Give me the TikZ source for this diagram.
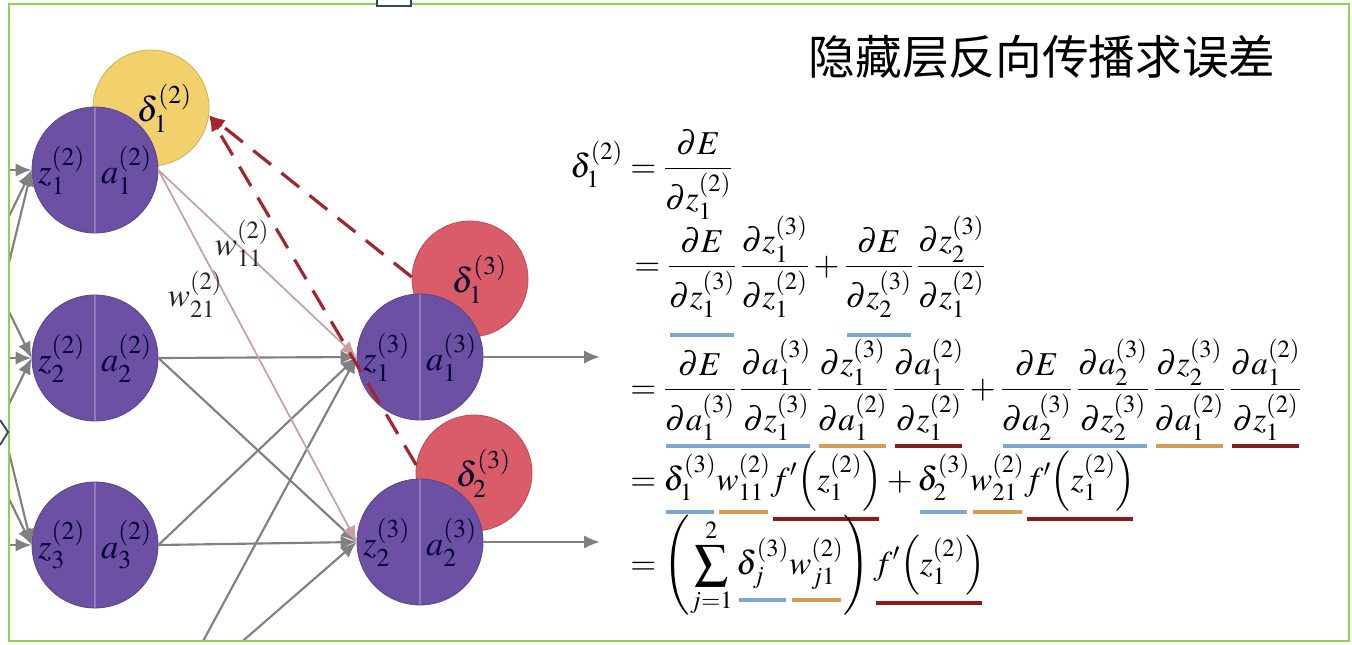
\documentclass[tikz,border=0pt]{standalone}
\usepackage{amsmath}
\usepackage{mathptmx}
\usepackage[no-math]{fontspec}
\newfontfamily\cjk{Noto Sans CJK SC}
\usetikzlibrary{arrows.meta}

\definecolor{framegreen}{HTML}{92D050}
\definecolor{nodepurple}{HTML}{6B50A3}
\definecolor{deltayellow}{HTML}{F2D16C}
\definecolor{deltared}{HTML}{D95C68}
\definecolor{backred}{HTML}{A3262F}
\definecolor{linkgray}{HTML}{808080}
\definecolor{linkpink}{HTML}{C99FA6}
\definecolor{ulblue}{HTML}{7EA6D3}
\definecolor{ulorange}{HTML}{D59C52}
\definecolor{uldark}{HTML}{8C1A1A}
\definecolor{navy}{HTML}{2E4A6B}

% coloured bar under a term
\newlength\uldrop
\newlength\ulgap \ulgap=4pt
\newcommand\ucol[2]{%
  \setbox0=\hbox{$\displaystyle#2$}%
  \dimen0=\dp0 \ifdim\dimen0<\uldrop \dimen0=\uldrop\fi
  \vtop{\copy0\nointerlineskip\kern-\dp0\kern\dimen0\kern\ulgap
    \hbox{\kern2pt\color{#1}\rule{\dimexpr\wd0-4pt\relax}{3pt}}}}

\begin{document}
\begin{tikzpicture}[
  x=0.75pt, y=-0.75pt,
  neuron/.style={circle, fill=nodepurple, draw=nodepurple!85!black, line width=0.6pt,
    minimum size=94.5pt, inner sep=0pt, text=black!80!blue,
    font=\fontsize{26}{30}\selectfont,
    path picture={\draw[nodepurple!75!white, line width=0.8pt]
      (path picture bounding box.north) -- (path picture bounding box.south);}},
  delta/.style={circle, minimum size=87pt, inner sep=0pt, line width=0.6pt,
    text=black!80!blue, font=\fontsize{26}{30}\selectfont},
  link/.style={draw=linkgray, line width=1.6pt, -{Latex[length=12pt,width=10pt]}},
  weight/.style={draw=linkpink, line width=1.3pt, -{Latex[length=12pt,width=10pt]}},
  back/.style={draw=backred, line width=2.4pt, dash pattern=on 17pt off 10pt,
    -{Latex[length=12pt,width=10pt]}},
  wlabel/.style={font=\fontsize{25}{29}\selectfont, text=black!85},
  eq/.style={anchor=base west, inner sep=0pt, font=\fontsize{25}{29}\selectfont}
]
\useasboundingbox (0,0) rectangle (1352,644);

\begin{scope}
\clip (9,4) rectangle (1349,641);
\coordinate (in1) at (-60,170);
\coordinate (in2) at (-60,358);
\coordinate (in3) at (-60,545);
\coordinate (hb) at (168,706);
\coordinate (out1) at (600,357);
\coordinate (out2) at (600,542);

\node[delta, fill=deltayellow, draw=deltayellow!85!black] (d12) at (151,108)
  {\hspace*{20pt}$\delta_1^{(2)}$};
\node[delta, fill=deltared, draw=deltared!85!black] (d31) at (470,279)
  {\hspace*{14pt}$\delta_1^{(3)}$};
\node[delta, fill=deltared, draw=deltared!85!black] (d32) at (474,473)
  {\hspace*{14pt}$\delta_2^{(3)}$};

\node[neuron] (h1) at (95,170) {$z_1^{(2)}$\hspace{12pt}$a_1^{(2)}$};
\node[neuron] (h2) at (95,358) {$z_2^{(2)}$\hspace{12pt}$a_2^{(2)}$};
\node[neuron] (h3) at (95,545) {$z_3^{(2)}$\hspace{12pt}$a_3^{(2)}$};
\node[neuron] (o1) at (420,357) {$z_1^{(3)}$\hspace{12pt}$a_1^{(3)}$};
\node[neuron] (o2) at (420,542) {$z_2^{(3)}$\hspace{12pt}$a_2^{(3)}$};

\foreach \i in {in1,in2,in3}
  \foreach \h in {h1,h2,h3}
    \draw[link] (\i) -- (\h.west);
\draw[link] (h2.east) -- (o1.west);
\draw[link] (h2.east) -- (o2.west);
\draw[link] (h3.east) -- (o1.west);
\draw[link] (h3.east) -- (o2.west);
\draw[link] (hb) -- (o1.west);
\draw[link] (hb) -- (o2.west);
\draw[weight] (h1.east) -- (o1.west);
\draw[weight] (h1.east) -- (o2.west);
\draw[link] (o1.east) -- (out1);
\draw[link] (o2.east) -- (out2);
\end{scope}

\node[wlabel] (w11) at (242,243) {$w_{11}^{(2)}$};
\node[wlabel] (w21) at (195,294) {$w_{21}^{(2)}$};

\draw[back] (d31.178) -- (d12.-7);
\draw[back] (d32.172) -- (d12.-7);

\node[font=\fontsize{35}{40}\selectfont\cjk] (title) at (1042,57) {隐藏层反向传播求误差};

\node[eq] (eq1) at (570,177)
  {$\displaystyle \delta_1^{(2)} = \frac{\partial E}{\partial z_1^{(2)}}$};
\node[eq] (eq2) at (634,275)
  {\ulgap=11pt$\displaystyle = \ucol{ulblue}{\frac{\partial E}{\partial z_1^{(3)}}}\,\frac{\partial z_1^{(3)}}{\partial z_1^{(2)}}
   + \ucol{ulblue}{\frac{\partial E}{\partial z_2^{(3)}}}\,\frac{\partial z_2^{(3)}}{\partial z_1^{(2)}}$};
\node[eq] (eq3) at (630,398)
  {\ulgap=2pt$\displaystyle = \ucol{ulblue}{\frac{\partial E}{\partial a_1^{(3)}}\,\frac{\partial a_1^{(3)}}{\partial z_1^{(3)}}}\,\ucol{ulorange}{\frac{\partial z_1^{(3)}}{\partial a_1^{(2)}}}\,\ucol{uldark}{\frac{\partial a_1^{(2)}}{\partial z_1^{(2)}}}
   + \ucol{ulblue}{\frac{\partial E}{\partial a_2^{(3)}}\,\frac{\partial a_2^{(3)}}{\partial z_2^{(3)}}}\,\ucol{ulorange}{\frac{\partial z_2^{(3)}}{\partial a_1^{(2)}}}\,\ucol{uldark}{\frac{\partial a_1^{(2)}}{\partial z_1^{(2)}}}$};
\node[eq] (eq4) at (630,490)
  {\uldrop=11pt$\displaystyle = \ucol{ulblue}{\delta_1^{(3)}}\ucol{ulorange}{w_{11}^{(2)}}\ucol{uldark}{f'{\left(z_1^{(2)}\right)}}
   + \ucol{ulblue}{\delta_2^{(3)}}\ucol{ulorange}{w_{21}^{(2)}}\ucol{uldark}{f'{\left(z_1^{(2)}\right)}}$};
\node[eq] (eq5) at (630,574)
  {\uldrop=14pt$\displaystyle = \left(\sum_{j=1}^{2}\ucol{ulblue}{\delta_j^{(3)}}\ucol{ulorange}{w_{j1}^{(2)}}\right)\ucol{uldark}{f'{\left(z_1^{(2)}\right)}}$};

\draw[framegreen, line width=2.2pt] (9,4) rectangle (1349,641);
\draw[navy, fill=white, line width=1.6pt] (377,-20) rectangle (411,6);
\draw[navy, line width=1.4pt] (0,420) -- (8,432) -- (0,445);
\end{tikzpicture}
\end{document}
